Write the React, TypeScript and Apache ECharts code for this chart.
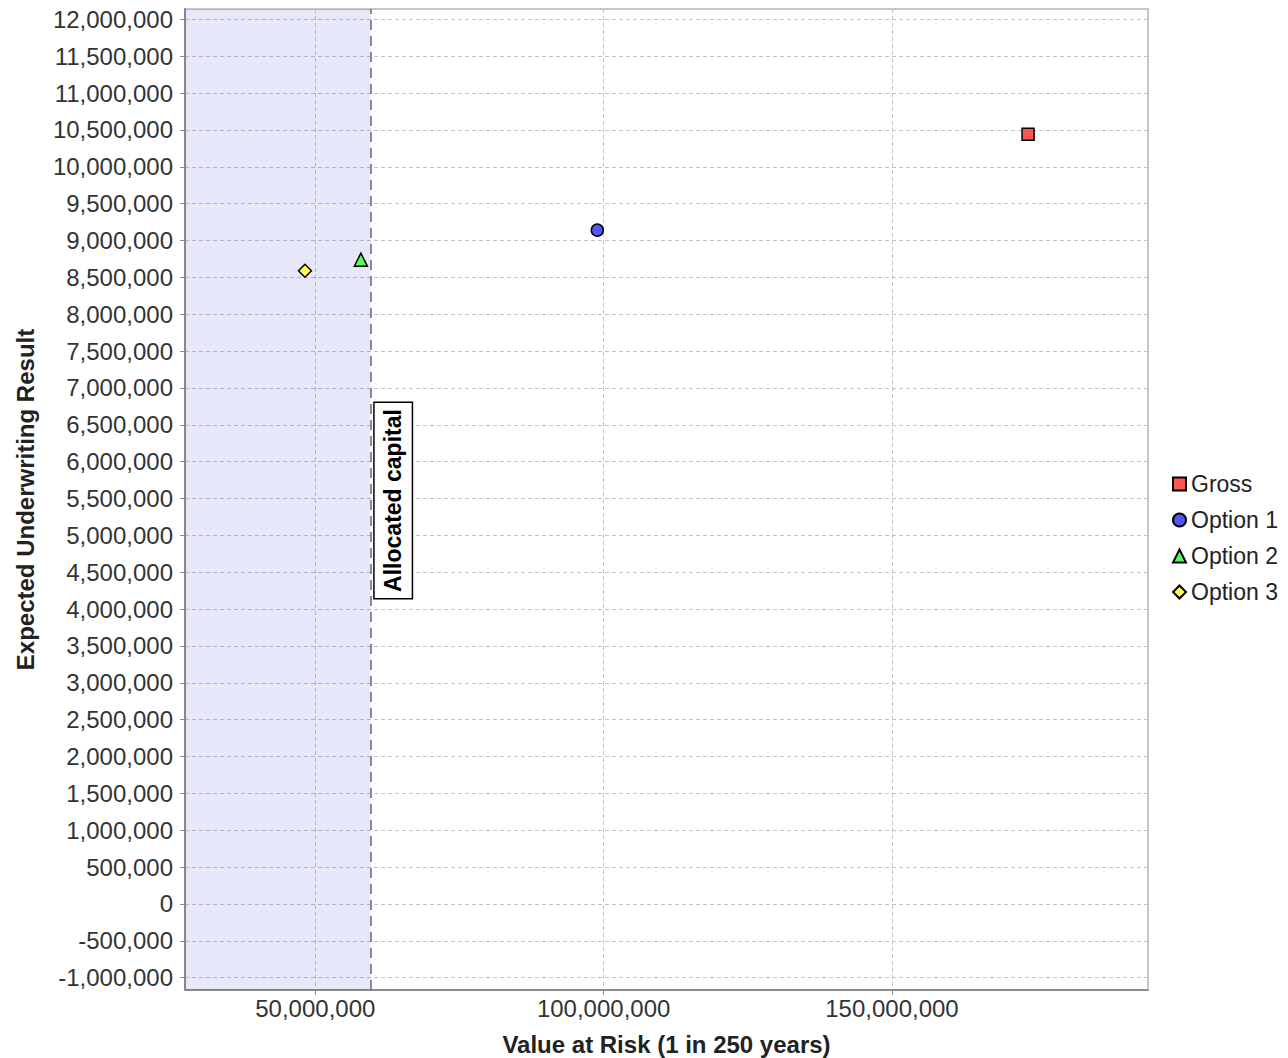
import React, { useEffect, useRef } from "react";
import * as echarts from "echarts";

const seriesNames = ["Gross", "Option 1", "Option 2", "Option 3"];
const valueAtRisk = [173.6e6, 98.9e6, 57.9e6, 48.2e6];
const expectedResult = [10.44e6, 9.14e6, 8.74e6, 8.59e6];
const seriesSymbols = ["rect", "circle", "triangle", "diamond"];
const seriesColors = ["#ff5555", "#5555ff", "#55ff55", "#ffff55"];
const symbolSizes = [12, 12, 13, 13];
const allocatedCapital = 59.6e6;
const markerLabel = "Allocated capital";
const xExtent = [27.4e6, 194.4e6];
const yExtent = [-1.167e6, 12.14e6];
const xTitle = "Value at Risk (1 in 250 years)";
const yTitle = "Expected Underwriting Result";

const FONT = "'Liberation Sans', Arial, Helvetica, sans-serif";
const fmt = (v: number) => Math.round(v).toLocaleString("en-US");

export default function App() {
  const ref = useRef<HTMLDivElement>(null);
  useEffect(() => {
    if (!ref.current) return;
    const chart = echarts.init(ref.current, undefined, { renderer: "svg" });
    const gridLine = { show: true, lineStyle: { color: "#c4c4c4", width: 1, type: [4, 3] as any } };
    const option: any = {
      animation: false,
      backgroundColor: "#ffffff",
      textStyle: { fontFamily: FONT },
      grid: {
        left: 185,
        right: 140,
        top: 9,
        bottom: 68,
        show: true,
        backgroundColor: "#ffffff",
        borderColor: "#c8c8c8",
        borderWidth: 2,
        containLabel: false,
        outerBoundsMode: "none",
      },
      legend: {
        orient: "vertical",
        left: 1172,
        top: 472,
        padding: 0,
        itemGap: 12,
        itemWidth: 13,
        itemHeight: 13,
        data: seriesNames,
        textStyle: { fontFamily: FONT, fontSize: 23, color: "#222", lineHeight: 24 },
      },
      xAxis: {
        type: "value",
        min: xExtent[0],
        max: xExtent[1],
        splitNumber: 3,
        name: xTitle,
        nameLocation: "middle",
        nameGap: 42,
        nameTextStyle: { fontFamily: FONT, fontSize: 24, fontWeight: "bold", color: "#222", verticalAlign: "top" },
        axisLine: { show: true, onZero: false, lineStyle: { color: "#8c8c8c", width: 2 } },
        axisTick: { show: true, length: 5, lineStyle: { color: "#8c8c8c" } },
        axisLabel: {
          fontFamily: FONT,
          fontSize: 24,
          color: "#333",
          margin: 6,
          showMinLabel: false,
          showMaxLabel: false,
          formatter: (v: number) => fmt(v),
        },
        splitLine: gridLine,
      },
      yAxis: {
        type: "value",
        min: yExtent[0],
        max: yExtent[1],
        splitNumber: 26,
        name: yTitle,
        nameLocation: "middle",
        nameGap: 148,
        nameRotate: 90,
        nameTextStyle: { fontFamily: FONT, fontSize: 24, fontWeight: "bold", color: "#222" },
        axisLine: { show: true, onZero: false, lineStyle: { color: "#8c8c8c", width: 2 } },
        axisTick: { show: true, length: 5, lineStyle: { color: "#8c8c8c" } },
        axisLabel: {
          fontFamily: FONT,
          fontSize: 24,
          color: "#333",
          margin: 12,
          showMinLabel: false,
          showMaxLabel: false,
          formatter: (v: number) => fmt(v),
        },
        splitLine: gridLine,
      },
      series: [
        {
          type: "scatter",
          name: "__marker",
          data: [],
          silent: true,
          z: 1,
          markArea: {
            silent: true,
            itemStyle: { color: "rgba(0,0,200,0.095)" },
            data: [[{ xAxis: xExtent[0] }, { xAxis: allocatedCapital }]],
          },
          markLine: {
            silent: true,
            symbol: ["none", "none"],
            label: { show: false },
            lineStyle: { color: "#707070", width: 1.6, type: [10, 6] },
            data: [{ xAxis: allocatedCapital }],
          },
        },
        ...seriesNames.map((name, i) => ({
          type: "scatter",
          name,
          z: 3,
          symbol: seriesSymbols[i],
          symbolSize: symbolSizes[i],
          itemStyle: { color: seriesColors[i], borderColor: "#000", borderWidth: 1.5, opacity: 1 },
          data: [[valueAtRisk[i], expectedResult[i]]],
        })),
      ],
    };
    chart.setOption(option);
    const p = chart.convertToPixel({ gridIndex: 0 }, [allocatedCapital, (yExtent[0] + yExtent[1]) / 2]) as number[];
    chart.setOption({
      graphic: [
        {
          type: "text",
          x: p[0] + 22.5,
          y: p[1] + 1,
          rotation: Math.PI / 2,
          z: 10,
          style: {
            text: markerLabel,
            fontFamily: FONT,
            fontSize: 23,
            fontWeight: "bold",
            fill: "#000",
            align: "center",
            verticalAlign: "middle",
            backgroundColor: "#ffffff",
            borderColor: "#000",
            borderWidth: 1.5,
            padding: [7, 6, 7, 6],
          },
        },
      ],
    });
    return () => chart.dispose();
  }, []);
  return (
    <div
      ref={ref}
      style={{ position: "absolute", left: 0, top: 0, width: 1288, height: 1058 }}
    />
  );
}
